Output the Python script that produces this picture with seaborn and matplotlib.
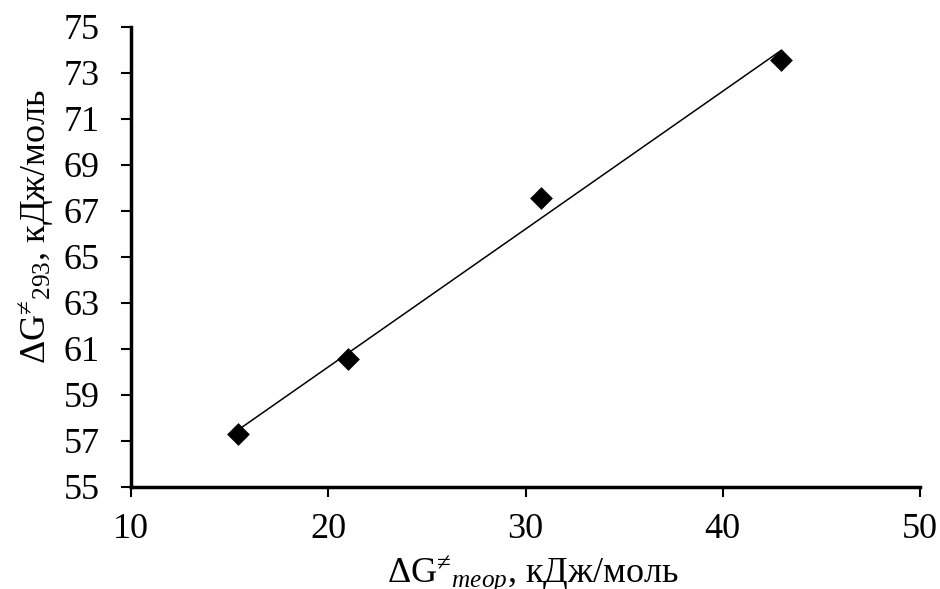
import numpy as np
import pandas as pd
import seaborn as sns
import matplotlib
matplotlib.use("Agg")
import matplotlib.pyplot as plt

# Theoretical vs. experimental activation free energy (kJ/mol)
dg_theor = [15.4, 21.0, 30.8, 42.95]
dg_293 = [57.3, 60.55, 67.55, 73.55]

x_ticks = [10, 20, 30, 40, 50]
y_ticks = [55, 57, 59, 61, 63, 65, 67, 69, 71, 73, 75]

sns.set_theme(style="ticks")
plt.rcParams["font.family"] = ["Liberation Serif", "DejaVu Serif"]
plt.rcParams["mathtext.fontset"] = "custom"
plt.rcParams["mathtext.rm"] = "Liberation Serif"
plt.rcParams["mathtext.it"] = "Liberation Serif:italic"

df = pd.DataFrame({"x": dg_theor, "y": dg_293})

fig = plt.figure(figsize=(9.40, 5.89), dpi=100)
ax = fig.add_axes([0.1394, 0.1732, 0.8393, 0.7810])

sns.regplot(data=df, x="x", y="y", ax=ax, scatter=False, ci=None,
            truncate=True, line_kws={"color": "black", "lw": 1.1})
sns.scatterplot(data=df, x="x", y="y", ax=ax, marker="D", s=135,
                color="black", edgecolor="black", linewidth=0, zorder=3)

ax.set_xlim(10, 50)
ax.set_ylim(55, 75)
ax.set_xticks(x_ticks)
ax.set_yticks(y_ticks)
ax.tick_params(axis="both", labelsize=26, direction="out", length=7.5,
               width=1.5, color="black", labelcolor="black")
ax.tick_params(axis="x", pad=11)
ax.tick_params(axis="y", pad=15)

for side in ("top", "right"):
    ax.spines[side].set_visible(False)
for side in ("left", "bottom"):
    ax.spines[side].set_linewidth(2.5)
    ax.spines[side].set_color("black")

ax.set_xlabel(r"ΔG$^{≠}{}_{\mathit{теор}}$, кДж/моль", fontsize=26,
              color="black")
ax.set_ylabel(r"ΔG$^{≠}{}_{293}$, кДж/моль", fontsize=26, color="black")
ax.xaxis.set_label_coords(0.51, -0.145)
ax.yaxis.set_label_coords(-0.095, 0.566)

fig.savefig("out.png", dpi=100, facecolor="white")
